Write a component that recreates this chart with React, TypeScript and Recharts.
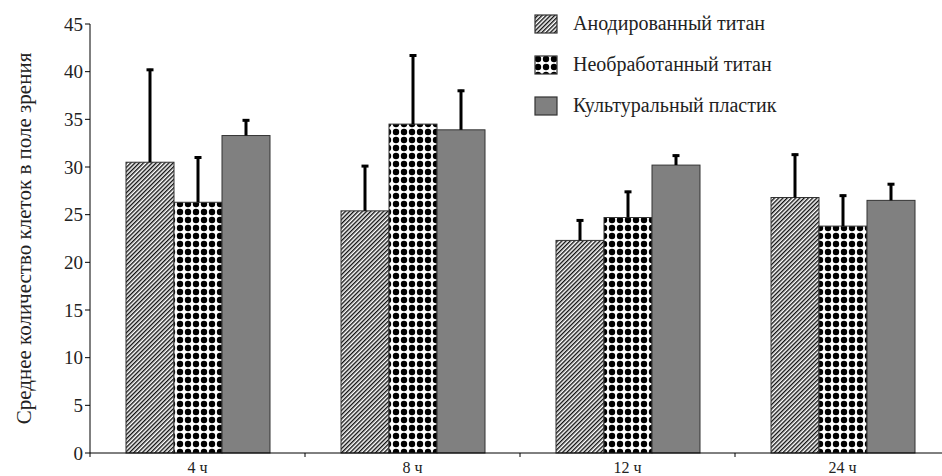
import React from 'react';
import {BarChart, Bar, XAxis, YAxis, Label} from 'recharts';

const categories = ['4 ч', '8 ч', '12 ч', '24 ч'];
const anodized = [30.5, 25.4, 22.3, 26.8];
const anodizedErr = [9.8, 4.8, 2.2, 4.6];
const untreated = [26.3, 34.5, 24.7, 23.8];
const untreatedErr = [4.8, 7.3, 2.8, 3.3];
const plastic = [33.3, 33.9, 30.2, 26.5];
const plasticErr = [1.7, 4.2, 1.1, 1.8];
const yTicks = [0, 5, 10, 15, 20, 25, 30, 35, 40, 45];

const series = [
	{key: 'a', name: 'Анодированный титан', fill: 'url(#hatch)'},
	{key: 'u', name: 'Необработанный титан', fill: 'url(#dots)'},
	{key: 'p', name: 'Культуральный пластик', fill: '#808080'},
];

const data = categories.map((c, i) => ({
	cat: c,
	a: anodized[i], aErr: anodizedErr[i],
	u: untreated[i], uErr: untreatedErr[i],
	p: plastic[i], pErr: plasticErr[i],
}));

const W = 950;
const H = 476;
const Y_W = 90;
const FONT = '"Liberation Serif", "Times New Roman", serif';
const halfBand = (W - Y_W) / categories.length / 2;

const barWithError = (errKey: string, valKey: string) => (props: any) => {
	const {x, y, width, height, fill, payload} = props;
	const perUnit = height / payload[valKey];
	const top = y - payload[errKey] * perUnit;
	const cx = x + width / 2;
	return (
		<g>
			<rect x={x} y={y} width={width} height={height} fill={fill} stroke="#333" strokeWidth={1}/>
			<line x1={cx} x2={cx} y1={y} y2={top} stroke="#000" strokeWidth={3}/>
			<line x1={cx - 3.5} x2={cx + 3.5} y1={top + 1} y2={top + 1} stroke="#000" strokeWidth={3}/>
		</g>
	);
};

const XTick = (props: any) => {
	const {x, y, payload, index} = props;
	return (
		<g>
			{index === 0 && <line x1={x - halfBand} x2={x - halfBand} y1={y - 8} y2={y - 4} stroke="#000"/>}
			<line x1={x + halfBand} x2={x + halfBand} y1={y - 8} y2={y - 4} stroke="#000"/>
			<text x={x} y={y + 12} textAnchor="middle" fontFamily={FONT} fontSize={16} fill="#222">
				{payload.value}
			</text>
		</g>
	);
};

const Patterns = ({suffix = ''}: {suffix?: string}) => (
	<defs>
		<pattern id={'hatch' + suffix} patternUnits="userSpaceOnUse" width={3} height={3} patternTransform="rotate(45)">
			<rect width={3} height={3} fill="#fff"/>
			<rect width={1.4} height={3} fill="#111"/>
		</pattern>
		<pattern id={'dots' + suffix} patternUnits="userSpaceOnUse" width={8} height={8}>
			<rect width={8} height={8} fill="#fff"/>
			<circle cx={4} cy={4} r={3.2} fill="#000"/>
		</pattern>
	</defs>
);

const LegendBox = () => (
	<div style={{position: 'absolute', left: 534, top: 3, fontFamily: FONT, fontSize: 20, color: '#222'}}>
		{series.map((s) => (
			<div key={s.key} style={{display: 'flex', alignItems: 'center', height: 41}}>
				<svg width={24} height={20} style={{marginRight: 15}}>
					<Patterns suffix="L"/>
					<rect x={1} y={1} width={22} height={18}
						fill={s.fill.startsWith('url') ? s.fill.replace(')', 'L)') : s.fill}
						stroke="#333" strokeWidth={1.2}/>
				</svg>
				<span>{s.name}</span>
			</div>
		))}
	</div>
);

const App = () => {
	return (
		<div style={{position: 'absolute', left: 0, top: 0, width: 942, height: H, overflow: 'hidden', background: '#fff'}}>
			<BarChart width={W} height={H} data={data} margin={{top: 24, right: 0, left: 0, bottom: 0}}
				barSize={48} barGap={0}>
				<Patterns/>
				<XAxis dataKey="cat" height={23} tickLine={false} axisLine={{stroke: '#000'}} tick={<XTick/>} interval={0}/>
				<YAxis width={Y_W} domain={[0, 45]} ticks={yTicks} interval={0} axisLine={{stroke: '#000'}}
					tickLine={{stroke: '#000'}} tickSize={5}
					tick={{fontFamily: FONT, fontSize: 19, fill: '#222'}}>
					<Label value="Среднее количество клеток в поле зрения" angle={-90} position="insideLeft" offset={24}
						style={{textAnchor: 'middle', fontFamily: FONT, fontSize: 21, fill: '#222'}}/>
				</YAxis>
				{series.map((s) => (
					<Bar key={s.key} dataKey={s.key} name={s.name} fill={s.fill} isAnimationActive={false}
						shape={barWithError(s.key + 'Err', s.key)}/>
				))}
			</BarChart>
			<LegendBox/>
		</div>
	);
};

export default App;
